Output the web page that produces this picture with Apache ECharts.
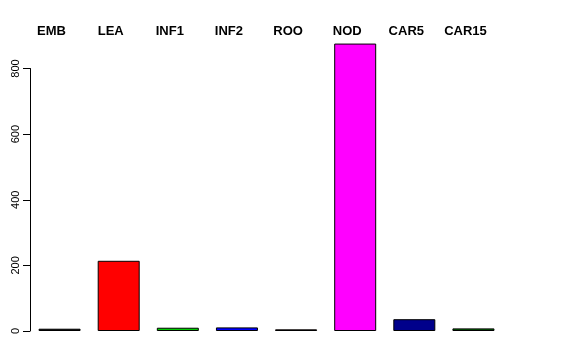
<!DOCTYPE html>
<html>
<head>
<meta charset="utf-8">
<script src="https://cdn.jsdelivr.net/npm/echarts@6/dist/echarts.min.js"></script>
<style>html,body{margin:0;padding:0;background:#fff;}#c{width:576px;height:360px;}</style>
</head>
<body>
<div id="c"></div>
<script>
const categories = ["EMB", "LEA", "INF1", "INF2", "ROO", "NOD", "CAR5", "CAR15"];
const values = [7, 214, 10, 11, 5, 876, 36, 8];
const colors = ["#000000", "#FF0000", "#00CD00", "#0000FF", "#3A0A0A", "#FF00FF", "#00008B", "#006400"];
const yTicks = [0, 200, 400, 600, 800];

const chart = echarts.init(document.getElementById('c'), null, {renderer: 'canvas'});
const font = '"Liberation Sans", Arial, Helvetica, sans-serif';
chart.setOption({
  animation: false,
  backgroundColor: '#ffffff',
  grid: {left: 30, right: 73, top: 68.5, bottom: 29, containLabel: false},
  xAxis: {
    type: 'category',
    data: categories,
    position: 'top',
    axisLine: {show: false},
    axisTick: {show: false},
    axisLabel: {
      show: true, interval: 0, margin: 31, align: 'center', padding: [0, 16, 0, 0],
      fontFamily: font, fontWeight: 'bold', fontSize: 13, color: '#000'
    }
  },
  yAxis: {
    type: 'value',
    min: yTicks[0], max: yTicks[yTicks.length - 1], interval: 200,
    axisLine: {show: true, lineStyle: {color: '#000', width: 1}},
    axisTick: {show: true, length: 7, lineStyle: {color: '#000'}},
    splitLine: {show: false},
    axisLabel: {rotate: 90, margin: 9, fontFamily: font, fontSize: 11, color: '#000'}
  },
  series: [{
    type: 'bar',
    clip: false,
    barWidth: 42,
    data: values.map((v, i) => ({
      value: v,
      itemStyle: {color: colors[i], borderColor: '#000', borderWidth: 1}
    }))
  }]
});
</script>
</body>
</html>
